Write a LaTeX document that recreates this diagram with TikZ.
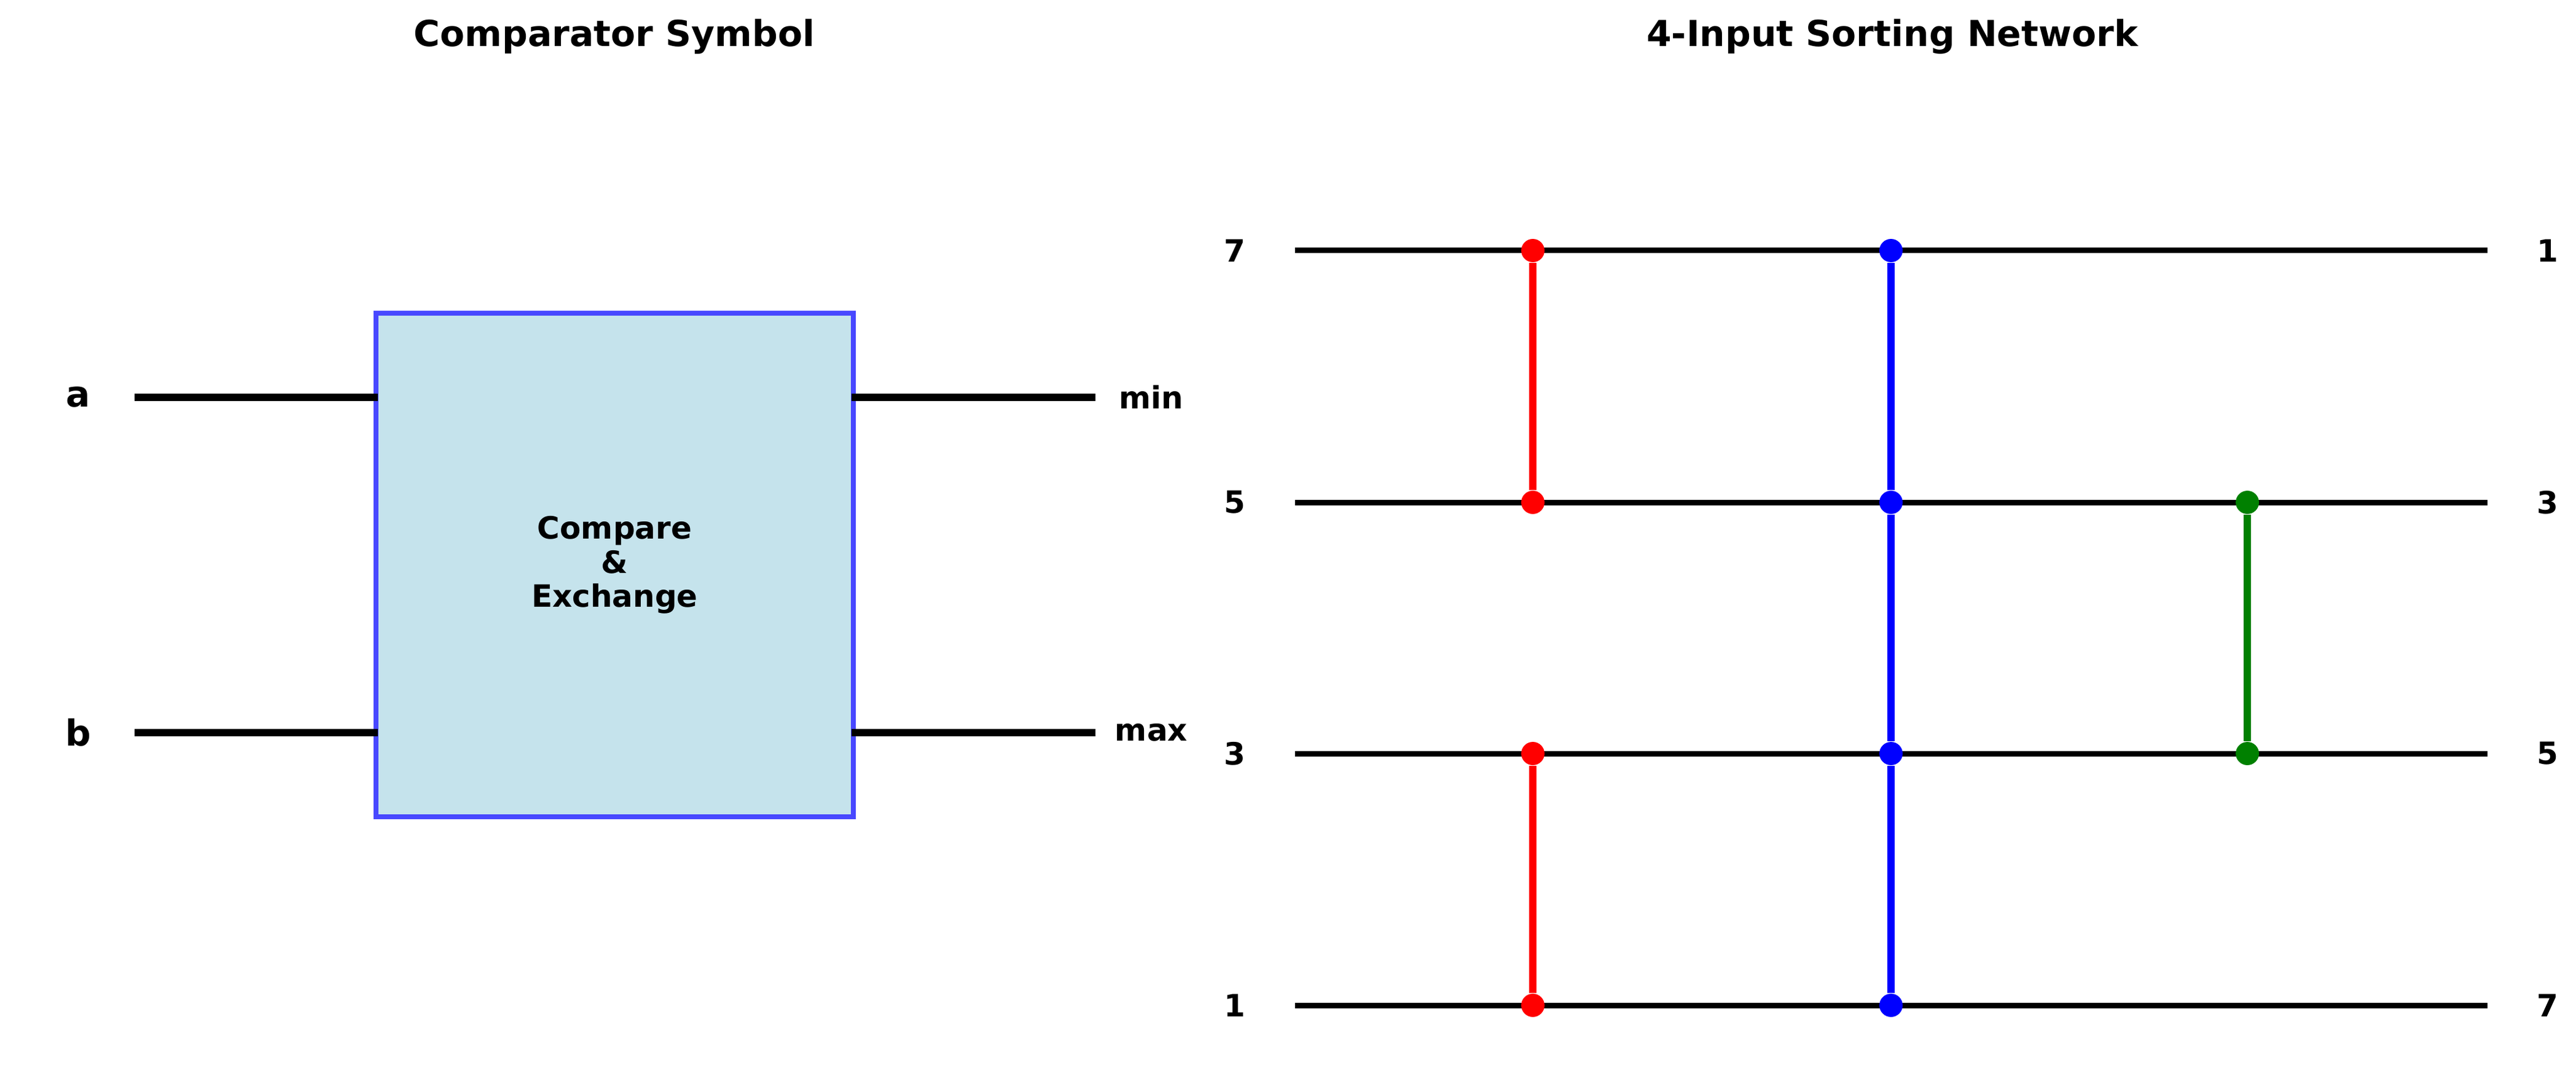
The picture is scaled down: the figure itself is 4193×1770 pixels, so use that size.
\documentclass[tikz,border=0pt]{standalone}
\usepackage{fontspec}
\setmainfont{DejaVu Sans}
\definecolor{boxfill}{RGB}{197,227,236}
\definecolor{boxedge}{RGB}{72,72,255}
\definecolor{netgreen}{RGB}{0,128,0}
\tikzset{
  wire/.style={line width=2.16pt},
  lead/.style={line width=2.9pt},
  cmp/.style={line width=2.9pt},
  joint/.style={circle, fill=#1, inner sep=0pt, minimum size=9.1pt},
  lbl/.style={font=\fontsize{12}{13.3}\selectfont\bfseries},
  big/.style={font=\fontsize{14}{17}\selectfont\bfseries},
  ttl/.style={font=\fontsize{14}{17}\selectfont\bfseries, anchor=base},
}
\begin{document}
\begin{tikzpicture}[x=0.24pt, y=-0.24pt]
    \useasboundingbox (0,0) rectangle (4193,1770);
    % titles
    \node[ttl] (ttlcmp) at (1000,76) {Comparator Symbol};
    \node[ttl] (ttlnet) at (3080,76) {4-Input Sorting Network};

    % comparator symbol
    \node[draw=boxedge, fill=boxfill, line width=2pt, minimum width=186.5pt,
        minimum height=196.8pt, inner sep=0pt, align=center, lbl] (cmpbox)
        at (1000.5,920) {Compare\\\&\\Exchange};
    \coordinate (ain) at (219,647);
    \coordinate (bin) at (219,1193);
    \coordinate (aout) at (1783,647);
    \coordinate (bout) at (1783,1193);
    \draw[lead, shorten >=-1.7pt] (ain) -- (ain -| cmpbox.west);
    \draw[lead, shorten >=-1.7pt] (bin) -- (bin -| cmpbox.west);
    \draw[lead, shorten >=-1.7pt] (aout) -- (aout -| cmpbox.east);
    \draw[lead, shorten >=-1.7pt] (bout) -- (bout -| cmpbox.east);
    \node[big] (la) at (127,647) {a};
    \node[big] (lb) at (127,1193) {b};
    \node[lbl] (lmin) at (1874,647) {min};
    \node[lbl] (lmax) at (1874,1193) {max};

    % sorting network wires
    \foreach \i/\y/\l/\r in {1/408/7/1, 2/818/5/3, 3/1227/3/5, 4/1637/1/7} {
        \node[lbl] (in\i) at (2010,\y) {\l};
        \node[lbl] (out\i) at (4147,\y) {\r};
        \coordinate (ws\i) at (2108,\y);
        \coordinate (we\i) at (4049,\y);
        \draw[wire] (ws\i) -- (we\i);
    }

    % comparators
    \node[joint=red] (ra1) at (2495,408) {};
    \node[joint=red] (ra2) at (2495,818) {};
    \node[joint=red] (rb1) at (2495,1227) {};
    \node[joint=red] (rb2) at (2495,1637) {};
    \draw[cmp, red] (ra1) -- (ra2);
    \draw[cmp, red] (rb1) -- (rb2);
    \foreach \i/\y in {1/408, 2/818, 3/1227, 4/1637}
        \node[joint=blue] (bl\i) at (3078,\y) {};
    \draw[cmp, blue] (bl1) -- (bl2) -- (bl3) -- (bl4);
    \node[joint=netgreen] (gr1) at (3658,818) {};
    \node[joint=netgreen] (gr2) at (3658,1227) {};
    \draw[cmp, netgreen] (gr1) -- (gr2);
\end{tikzpicture}
\end{document}
